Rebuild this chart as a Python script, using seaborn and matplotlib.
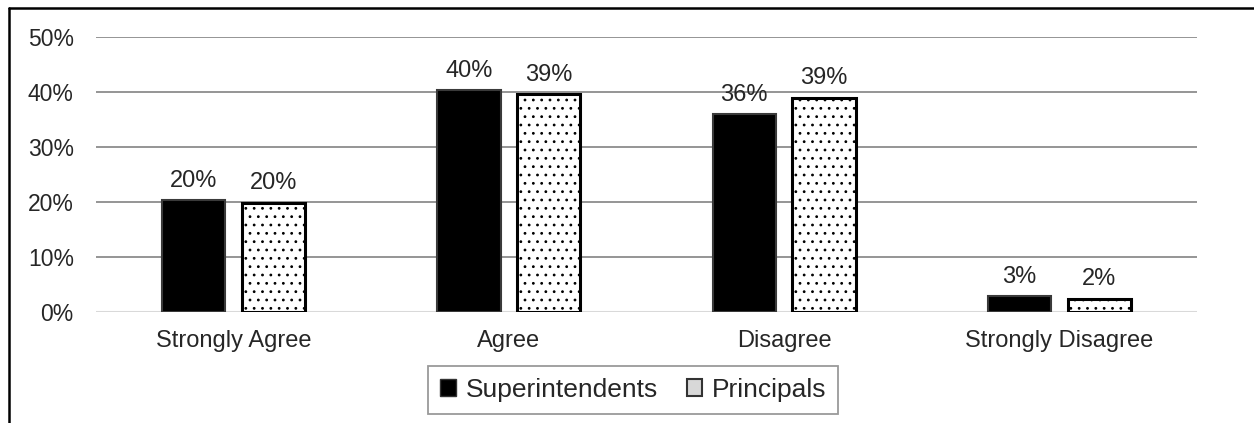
import pandas as pd
import matplotlib.pyplot as plt
import seaborn as sns
from matplotlib.lines import Line2D
from matplotlib.ticker import PercentFormatter

# responses
categories = ['Strongly Agree', 'Agree', 'Disagree', 'Strongly Disagree']
superintendents = [0.203, 0.403, 0.360, 0.029]
principals = [0.199, 0.396, 0.390, 0.024]
sup_labels = ['20%', '40%', '36%', '3%']
prin_labels = ['20%', '39%', '39%', '2%']

df = pd.DataFrame({
    'Response': categories * 2,
    'Share': superintendents + principals,
    'Group': ['Superintendents'] * 4 + ['Principals'] * 4,
})

sns.set_style('white')
plt.rcParams['font.family'] = ['Liberation Sans', 'DejaVu Sans']
plt.rcParams['hatch.linewidth'] = 0.8
plt.rcParams['hatch.color'] = '#555555'

fig = plt.figure(figsize=(12.54, 4.23), dpi=100)
ax = fig.add_axes([0.0766, 0.2624, 0.8779, 0.6501])

sns.barplot(
    data=df, x='Response', y='Share', hue='Group',
    palette={'Superintendents': 'black', 'Principals': 'white'},
    width=0.58, gap=0.21, ax=ax, legend=False, zorder=3,
)

# superintendents: solid black; principals: white with dots and black edge
for i, bar in enumerate(ax.patches):
    if i < 4:
        bar.set_edgecolor('#3a3a3a')
        bar.set_linewidth(1.5)
    else:
        bar.set_facecolor('white')
        bar.set_edgecolor('black')
        bar.set_linewidth(2.2)
        bar.set_hatch('..')

# value labels
for bar, lab in zip(ax.patches, sup_labels + prin_labels):
    ax.annotate(lab, (bar.get_x() + bar.get_width() / 2, bar.get_height()),
                xytext=(0, 6), textcoords='offset points',
                ha='center', va='bottom', fontsize=17)

ax.set_ylim(0, 0.5)
ax.set_yticks([0, 0.1, 0.2, 0.3, 0.4, 0.5])
ax.yaxis.set_major_formatter(PercentFormatter(1.0, decimals=0))
ax.set_xlim(-0.5, 3.5)
ax.set_xlabel('')
ax.set_ylabel('')
ax.tick_params(axis='y', length=0, pad=16, labelsize=16.5)
ax.tick_params(axis='x', length=0, pad=13, labelsize=17)
ax.grid(axis='y', color='#8c8c8c', linewidth=1.3, zorder=0)
ax.set_axisbelow(True)
for s in ax.spines.values():
    s.set_visible(False)
ax.axhline(0, color='#d9d9d9', linewidth=1.5, zorder=2)

handles = [
    plt.Rectangle((0, 0), 1, 1, facecolor='black', edgecolor='#333333'),
    plt.Rectangle((0, 0), 1, 1, facecolor='#d8d8d8', edgecolor='#333333', linewidth=1.5),
]
leg = fig.legend(handles, ['Superintendents', 'Principals'], loc='center',
                 bbox_to_anchor=(0.505, 0.078), ncol=2, fontsize=19,
                 frameon=True, fancybox=False, edgecolor='#808080',
                 handlelength=0.6, handleheight=0.6, handletextpad=0.35,
                 columnspacing=1.1, borderpad=0.45, borderaxespad=0)
leg.get_frame().set_linewidth(1.3)

# outer chart border (left and top visible)
fig.add_artist(Line2D([0.0072, 0.0072], [0, 0.981], color='black', linewidth=1.8,
                      transform=fig.transFigure))
fig.add_artist(Line2D([0.0072, 1], [0.981, 0.981], color='black', linewidth=1.8,
                      transform=fig.transFigure))

fig.savefig('out.png', dpi=100)
